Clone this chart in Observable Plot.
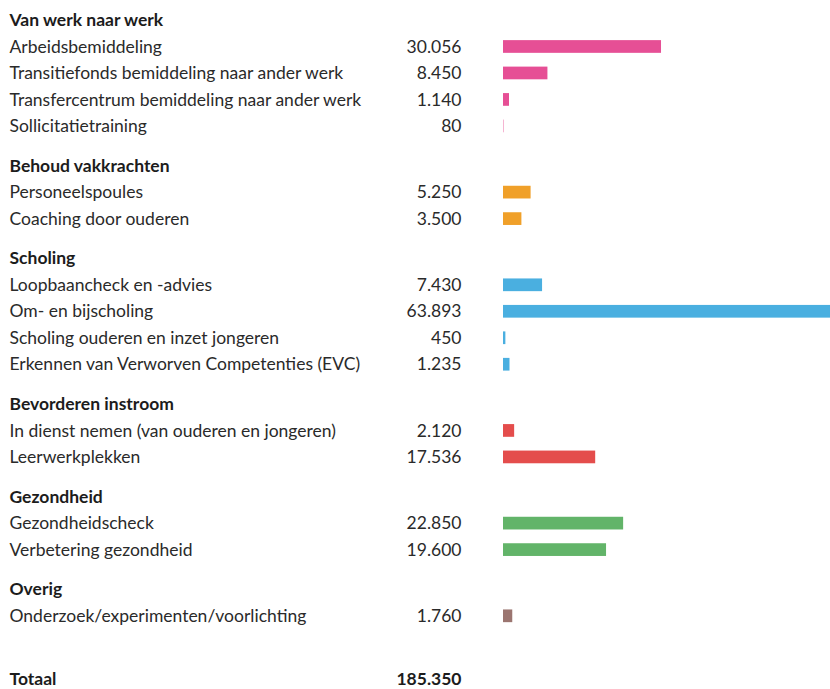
<!DOCTYPE html>
<html>
<head>
<meta charset="utf-8">
<script src="https://cdn.jsdelivr.net/npm/d3@7"></script>
<script src="https://cdn.jsdelivr.net/npm/@observablehq/plot@0.6"></script>
<style>
  html, body { margin: 0; padding: 0; background: #fff; overflow: hidden; }
  #chart svg { display: block; }
</style>
</head>
<body>
<div id="chart"></div>
<script>
const groups = ["Van werk naar werk", "Behoud vakkrachten", "Scholing", "Bevorderen instroom", "Gezondheid", "Overig"];
const groupColors = ["#e64f95", "#f0a029", "#4aafe0", "#e44d4c", "#62b469", "#9b7570"];
const labels = [
  ["Arbeidsbemiddeling", "Transitiefonds bemiddeling naar ander werk", "Transfercentrum bemiddeling naar ander werk", "Sollicitatietraining"],
  ["Personeelspoules", "Coaching door ouderen"],
  ["Loopbaancheck en -advies", "Om- en bijscholing", "Scholing ouderen en inzet jongeren", "Erkennen van Verworven Competenties (EVC)"],
  ["In dienst nemen (van ouderen en jongeren)", "Leerwerkplekken"],
  ["Gezondheidscheck", "Verbetering gezondheid"],
  ["Onderzoek/experimenten/voorlichting"]
];
const values = [
  [30056, 8450, 1140, 80],
  [5250, 3500],
  [7430, 63893, 450, 1235],
  [2120, 17536],
  [22850, 19600],
  [1760]
];
const totalLabel = "Totaal";
const totalValue = 185350;

const nl = d3.formatLocale({decimal: ",", thousands: ".", grouping: [3], currency: ["€", ""]});
const fmt = nl.format(",d");

// build rows (row index in units of line spacing)
const headers = [];
const items = [];
let r = 0;
groups.forEach((g, gi) => {
  headers.push({row: r, text: g});
  labels[gi].forEach((l, li) => {
    r += 1;
    items.push({row: r, label: l, value: values[gi][li], group: g});
  });
  r += 1.5;
});
const totalRow = r + 1; // extra space before total
const totals = [{row: totalRow, label: totalLabel, value: totalValue}];

const font = "Lato, 'Open Sans', sans-serif";
const fs = 17.5;
const chart = Plot.plot({
  width: 830,
  height: 689,
  marginLeft: 0, marginRight: 0, marginTop: 0, marginBottom: 0,
  x: {domain: [0, 62200], range: [503, 830], axis: null},
  y: {type: "linear", domain: [0, totalRow], range: [20, 682], axis: null},
  color: {domain: groups, range: groupColors},
  style: {fontFamily: font, fontSize: "16px", color: "#1c1c1c", background: "#fff"},
  marks: [
    Plot.rectX(items, {x1: 0, x2: "value", y1: d => d.row - 0.24, y2: d => d.row + 0.24, fill: "group", clip: true}),
    Plot.text(headers, {y: "row", text: "text", frameAnchor: "left", dx: 9, textAnchor: "start", fontWeight: "bold", fontSize: fs, fill: "#1c1c1c"}),
    Plot.text(items, {y: "row", text: "label", frameAnchor: "left", dx: 9, textAnchor: "start", fontSize: fs, fill: "#2a2a2a"}),
    Plot.text(items, {y: "row", text: d => fmt(d.value), frameAnchor: "left", dx: 461, textAnchor: "end", fontSize: fs, fill: "#2a2a2a"}),
    Plot.text(totals, {y: "row", text: "label", frameAnchor: "left", dx: 9, dy: -3, textAnchor: "start", fontWeight: "bold", fontSize: fs, fill: "#1c1c1c"}),
    Plot.text(totals, {y: "row", text: d => fmt(d.value), frameAnchor: "left", dx: 461, dy: -3, textAnchor: "end", fontWeight: "bold", fontSize: fs, fill: "#1c1c1c"})
  ]
});
document.getElementById("chart").append(chart);
</script>
</body>
</html>
